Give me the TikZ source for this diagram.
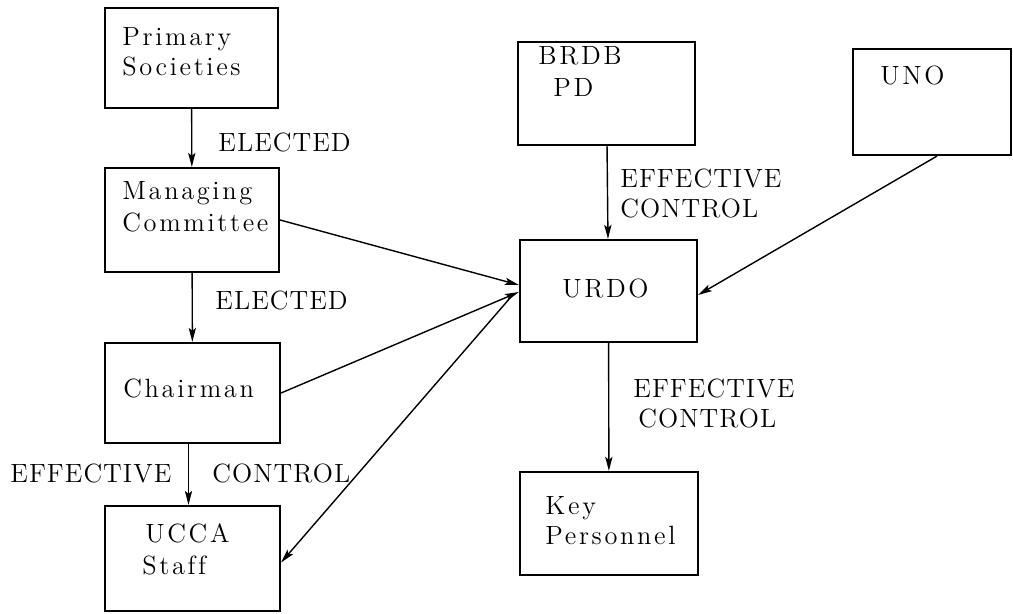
\documentclass[tikz,border=0pt]{standalone}
\usepackage{fontspec}
\newfontfamily\boxfont{lmroman12-regular.otf}[LetterSpace=10,Ligatures=NoCommon]
\newfontfamily\lblfont{lmroman12-regular.otf}[LetterSpace=4]
\usetikzlibrary{arrows.meta}
\begin{document}
\begin{tikzpicture}[x=0.5pt,y=-0.5pt,
    box/.style={draw,line width=1.1pt,inner sep=0pt},
    txt/.style={anchor=base west,inner sep=0pt,font=\boxfont\fontsize{13.2}{16}\selectfont},
    lbl/.style={anchor=base west,inner sep=0pt,font=\lblfont\fontsize{13.2}{16}\selectfont},
    arr/.style={line width=0.7pt,-{Stealth[length=7pt,width=3.6pt,inset=1.5pt]}}]
    \useasboundingbox (0,0) rectangle (1013,614);
    % boxes
    \node[box,minimum width=86.5pt,minimum height=50pt] (prim) at (191.5,58) {};
    \node[box,minimum width=87pt,minimum height=52pt] (manag) at (192,220) {};
    \node[box,minimum width=87.5pt,minimum height=50pt] (chair) at (192.5,393) {};
    \node[box,minimum width=87.5pt,minimum height=52.5pt] (ucca) at (192.5,558.5) {};
    \node[box,minimum width=88.5pt,minimum height=51.5pt] (brdb) at (606.5,93.5) {};
    \node[box,minimum width=79pt,minimum height=53pt] (uno) at (932,102) {};
    \node[box,minimum width=88.5pt,minimum height=51pt] (urdo) at (608.5,291) {};
    \node[box,minimum width=89pt,minimum height=51.5pt] (key) at (609,523.5) {};
    % box texts
    \node[txt] (prim1) at (122,46) {Primary};
    \node[txt] (prim2) at (122,76) {Societies};
    \node[txt] (manag1) at (122,200) {Managing};
    \node[txt] (manag2) at (122,232) {Committee};
    \node[txt] (chair1) at (123,398) {Chairman};
    \node[txt] (ucca1) at (145,543) {UCCA};
    \node[txt] (ucca2) at (142,575) {Staff};
    \node[txt] (brdb1) at (538,65) {BRDB};
    \node[txt] (brdb2) at (553,97) {PD};
    \node[txt] (uno1) at (880,85) {UNO};
    \node[txt] (urdo1) at (562,298) {URDO};
    \node[txt] (key1) at (545,515) {Key};
    \node[txt] (key2) at (545,545) {Personnel};
    % arrows
    \draw[arr] (prim) -- (manag);
    \draw[arr] (manag) -- (chair);
    \draw[arr,line width=0.45pt] ([xshift=-2pt]chair.south) -- ([xshift=-2pt]ucca.north);
    \draw[arr] (brdb) -- (urdo);
    \draw[arr] (urdo) -- (key);
    \draw[arr] (manag.east) -- ([yshift=3pt]urdo.west);
    \draw[arr] (chair.east) -- ([yshift=-0.5pt]urdo.west);
    \draw[arr] ([shift={(-4pt,-3pt)}]urdo.west) -- ([yshift=-2pt]ucca.east);
    \draw[arr] ([xshift=2.5pt]uno.south) -- ([yshift=-2pt]urdo.east);
    % arrow labels
    \node[lbl] (el1) at (218,152) {ELECTED};
    \node[lbl] (el2) at (215,310) {ELECTED};
    \node[lbl] (ef1) at (10,483) {EFFECTIVE};
    \node[lbl] (co1) at (212,483) {CONTROL};
    \node[lbl] (ef2) at (620,188) {EFFECTIVE};
    \node[lbl] (co2) at (620,218) {CONTROL};
    \node[lbl] (ef3) at (633,398) {EFFECTIVE};
    \node[lbl] (co3) at (638,428) {CONTROL};
\end{tikzpicture}
\end{document}
